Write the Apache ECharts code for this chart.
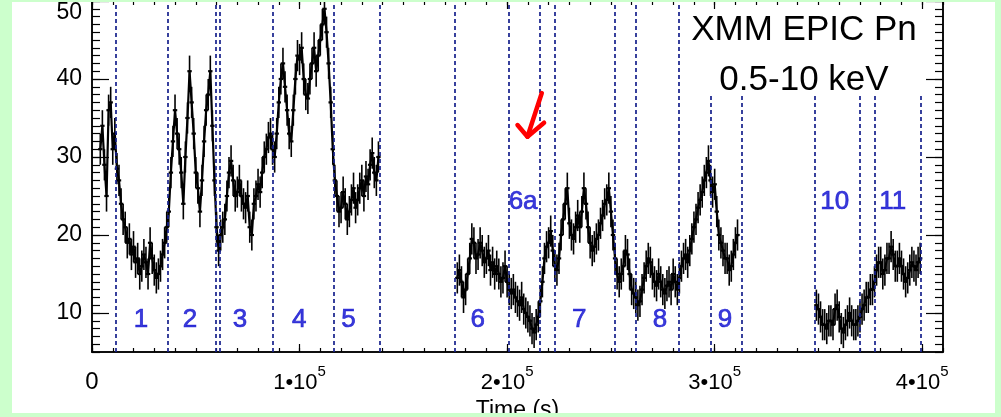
<!DOCTYPE html>
<html><head><meta charset="utf-8">
<script src="https://cdn.jsdelivr.net/npm/echarts@6/dist/echarts.min.js"></script>
<style>
html,body{margin:0;padding:0;background:#ccffcc;width:1001px;height:417px;overflow:hidden}
#wrap{position:absolute;left:12px;top:2px;width:983px;height:411px;overflow:hidden;background:#fff}
#chart{position:absolute;left:-12px;top:-2px;width:1001px;height:417px}
</style></head><body><div id="wrap"><div id="chart"></div></div>
<script>
// Light curve, [time (ks), count rate (counts/s)]
const segmentA = [[4,31],[5,34],[6,29],[7,25],[8,36],[9,37],[10,31],[11,33],[12,28.5],[13,27],[14,24],[15,22],[16,21],[17,19],[18,19.5],[19,17.5],[20,18.5],[21,16.5],[22,17],[23,15],[24,16],[25,17.5],[26,16.5],[27,15],[28,19],[29,17],[30,15.5],[31,14.5],[32,15],[33,16],[34,17.5],[35,19],[36,21],[37,23],[38,28],[39,32],[40,36],[41,33],[42,31],[43,28],[44,24],[45,30],[46,35],[47,41],[48,37],[49,33],[50,28],[51,26],[52,23],[53,27],[54,32],[55,36],[56,38],[57,41],[58,34],[59,27],[60,21],[61,18],[62,20],[63,21],[64,22],[65,25],[66,28],[67,29.5],[68,27],[69,25],[70,25.5],[71,27],[72,25],[73,24],[74,23.5],[75,25],[76,21],[77,20],[78,24],[79,25],[80,26.5],[81,25.5],[82,28],[83,30],[84,31],[85,32.5],[86,33],[87,31],[88,30],[89,33],[90,37],[91,40],[92,42],[93,39],[94,36],[95,33],[96,32],[97,36],[98,40],[99,43],[100,42.5],[101,44],[102,40],[103,38],[104,37.5],[105,40],[106,42],[107,44],[108,41],[109,43],[110,45],[111,47],[112,49],[113,46],[114,42],[115,37],[116,31],[117,27],[118,25],[119,23],[120,23.5],[121,25.5],[122,24],[123,22],[124,23],[125,24.5],[126,26],[127,23.5],[128,24.5],[129,26],[130,27],[131,25],[132,27.5],[133,26.5],[134,29],[135,30.5],[136,28],[137,27],[138,30]];
const segmentB = [[176,14.5],[177,15.5],[178,14],[179,12],[180,13],[181,15],[182,17],[183,19.5],[184,19],[185,17],[186,17.5],[187,19],[188,18],[189,16.5],[190,17],[191,18],[192,15.5],[193,16.5],[194,15],[195,16],[196,15],[197,14],[198,14.5],[199,16],[200,14],[201,13],[202,12.5],[203,13],[204,12],[205,11.5],[206,11],[207,12],[208,10.5],[209,10],[210,9.5],[211,9],[212,8],[213,7.5],[214,8.5],[215,9.5],[216,11.5],[217,14],[218,17],[219,18.5],[220,19],[221,20.5],[222,18],[223,16],[224,15.5],[225,17],[226,20],[227,22],[228,24],[229,26],[230,21.5],[231,20],[232,19.5],[233,21],[234,22.5],[235,21],[236,23],[237,26],[238,24],[239,21],[240,19],[241,18],[242,18.5],[243,19.5],[244,20],[245,21.5],[246,22.5],[247,24],[248,24.5],[249,26],[250,23],[251,20],[252,17],[253,15],[254,14],[255,15],[256,16],[257,18],[258,17.5],[259,15],[260,13],[261,12.5],[262,12],[263,11],[264,11.5],[265,13],[266,14.5],[267,16],[268,17],[269,16.5],[270,15],[271,14],[272,13.5],[273,15],[274,14],[275,13],[276,12.5],[277,13.5],[278,14],[279,13],[280,15],[281,14],[282,13],[283,14.5],[284,16],[285,17],[286,17.5],[287,16.5],[288,18],[289,19.5],[290,21],[291,22],[292,23.5],[293,24.5],[294,25.5],[295,27],[296,28],[297,29.5],[298,27],[299,25.5],[300,26.5],[301,23],[302,20],[303,19],[304,18],[305,17],[306,17],[307,15.5],[308,16],[309,17.5],[310,19],[311,20]];
const segmentC = [[349,11],[350,10.5],[351,9.5],[352,8.5],[353,8.5],[354,8],[355,9],[356,9],[357,8.5],[358,10.5],[359,11],[360,9.5],[361,8],[362,7.5],[363,8.5],[364,9],[365,10],[366,9],[367,8.5],[368,8.5],[369,9],[370,9.5],[371,10.5],[372,11],[373,12],[374,12],[375,13],[376,13],[377,14],[378,15.5],[379,16.5],[380,16.5],[381,15],[382,15.5],[383,17],[384,17],[385,18.5],[386,17.5],[387,16],[388,16],[389,17],[390,16],[391,15],[392,14],[393,14.5],[394,15.5],[395,16.5],[396,16],[397,15.5],[398,16.5],[399,17]];
const ERR = 2;

// Interval boundaries (ks) and how high each dashed line reaches (counts/s)
const dividerTimes = [11.6,36.6,59.8,61.7,87.1,116.6,138.8,174.9,200.7,215.9,222.9,252.0,261.9,282.9,298.3,313.0,348.0,370.1,377.3,399.5];
const dividerTops  = [50,50,50,50,50,50,50,50,50,50,50,50,50,50,38,38,38,38,38,38];

// Interval labels
const segLabels = ['1','2','3','4','5','6','6a','7','8','9','10','11'];
const segLabelT = [23.6,47.2,71.3,99.8,123.6,185.8,207.7,234.7,273.7,305,357.8,385.8];
const segLabelV = [9.1,9.1,9.1,9.1,9.1,9.1,24.2,9.1,9.1,9.1,24.2,24.2];

// Axis ticks
const xMajor = [0,100000,200000,300000,400000];
const yMajor = [10,20,30,40,50];

// Red arrow annotation [time ks, rate]
const arrowShaft = [[216.7,38.2],[209.8,32.6]];
const arrowHead = [[205.0,34.1],[209.8,32.6],[217.8,34.4]];

const FONT = 'Liberation Sans, Arial, Helvetica, sans-serif';
const toSec = a => a.map(p => [p[0]*1000, p[1]]);

function lineSeries(d, extra){
  return Object.assign({type:'line', data: toSec(d), symbol:'none', showSymbol:false,
    lineStyle:{color:'#000', width:2.2}, z:3, silent:true, animation:false}, extra||{});
}
function errSeries(d){
  return {type:'custom', data: toSec(d), clip:true, silent:true, z:4, animation:false,
    renderItem:(params, api)=>{
      const t=api.value(0), v=api.value(1);
      const p1=api.coord([t,v-ERR]), p2=api.coord([t,v+ERR]), c=api.coord([t,v]);
      return {type:'group', children:[
        {type:'line', shape:{x1:p1[0],y1:p1[1],x2:p2[0],y2:p2[1]}, style:{stroke:'#000',lineWidth:1.6}},
        {type:'line', shape:{x1:c[0]-2.2,y1:c[1],x2:c[0]+2.2,y2:c[1]}, style:{stroke:'#000',lineWidth:2.2}}
      ]};
    }};
}

const divLines = dividerTimes.map((t,i)=>[{coord:[t*1000,5]},{coord:[t*1000,dividerTops[i]]}]);

const axisCommon = {type:'value', splitLine:{show:false}};

function xAx(pos, major){
  const a = Object.assign({}, axisCommon, {position:pos, min:0, max:410000,
    axisLine:{show:true, onZero:false, lineStyle:{color:'#000', width:1.5}},
    axisTick:{inside:true, length: major?8:4, lineStyle:{color:'#000', width:1.2}},
    axisLabel:{show:false}});
  if(major){ a.axisTick.customValues = xMajor; }
  else { a.interval = 10000; }
  if(major && pos==='bottom'){
    a.axisLabel = {show:true, customValues:xMajor, margin:12, color:'#000',
      formatter: v => v===0 ? '{z|0}' : '{m|'+Math.round(v/100000)+'•10}{s|5}',
      rich:{ z:{fontSize:24, fontFamily:FONT, color:'#000', lineHeight:30, verticalAlign:'bottom'},
             m:{fontSize:22, fontFamily:FONT, color:'#000', lineHeight:30, verticalAlign:'bottom'},
             s:{fontSize:15, fontFamily:FONT, color:'#000', lineHeight:30, verticalAlign:'top'} } };
    a.name = 'Time (s)'; a.nameLocation='middle'; a.nameGap=45;
    a.nameTextStyle = {fontSize:23, fontFamily:FONT, color:'#000'};
  }
  return a;
}
function yAx(pos, major){
  const a = Object.assign({}, axisCommon, {position:pos, min:5, max:50,
    axisLine:{show:true, onZero:false, lineStyle:{color:'#000', width:1.5}},
    axisTick:{inside:true, length: major?17:8, lineStyle:{color:'#000', width:1.2}},
    axisLabel:{show:false}});
  if(major){ a.axisTick.customValues = yMajor; }
  else { a.interval = 1; }
  if(major && pos==='left'){
    a.axisLabel = {show:true, customValues:yMajor, margin:10, fontSize:23, fontFamily:FONT, color:'#000',
      verticalAlignMaxLabel:'top'};
  }
  return a;
}

const chart = echarts.init(document.getElementById('chart'), null, {renderer:'canvas'});
chart.setOption({
  animation:false,
  backgroundColor:'#fff',
  grid:{left:92, right:58, top:1, bottom:65, containLabel:false, outerBoundsMode:'none'},
  xAxis:[xAx('bottom',true), xAx('bottom',false), xAx('top',true), xAx('top',false)],
  yAxis:[yAx('left',true), yAx('left',false), yAx('right',true), yAx('right',false)],
  series:[
    lineSeries(segmentA, {markLine:{silent:true, symbol:'none', animation:false, label:{show:false},
      lineStyle:{type:[4,3], color:'#16208c', width:1.7}, data:divLines}}),
    lineSeries(segmentB), lineSeries(segmentC),
    errSeries(segmentA), errSeries(segmentB), errSeries(segmentC),
    {type:'scatter', data: segLabels.map((s,i)=>[segLabelT[i]*1000, segLabelV[i], s]), symbolSize:0, silent:true, z:6,
      label:{show:true, position:'inside', formatter:p=>p.data[2], fontSize:26, fontFamily:FONT, color:'#0a0ad0',
        textBorderColor:'#0a0ad0', textBorderWidth:0.7}},
    lineSeries(arrowShaft, {lineStyle:{color:'#ff0000', width:4.5, cap:'round', join:'round'}, z:8}),
    lineSeries(arrowHead, {lineStyle:{color:'#ff0000', width:4.5, cap:'round', join:'round'}, z:8})
  ],
  graphic:[{type:'text', x:804, y:5, z:10, style:{text:'XMM EPIC Pn\n0.5-10 keV', font:'35px '+FONT,
    fill:'#000', textAlign:'center', textVerticalAlign:'top', lineHeight:50}}]
});
</script></body></html>
